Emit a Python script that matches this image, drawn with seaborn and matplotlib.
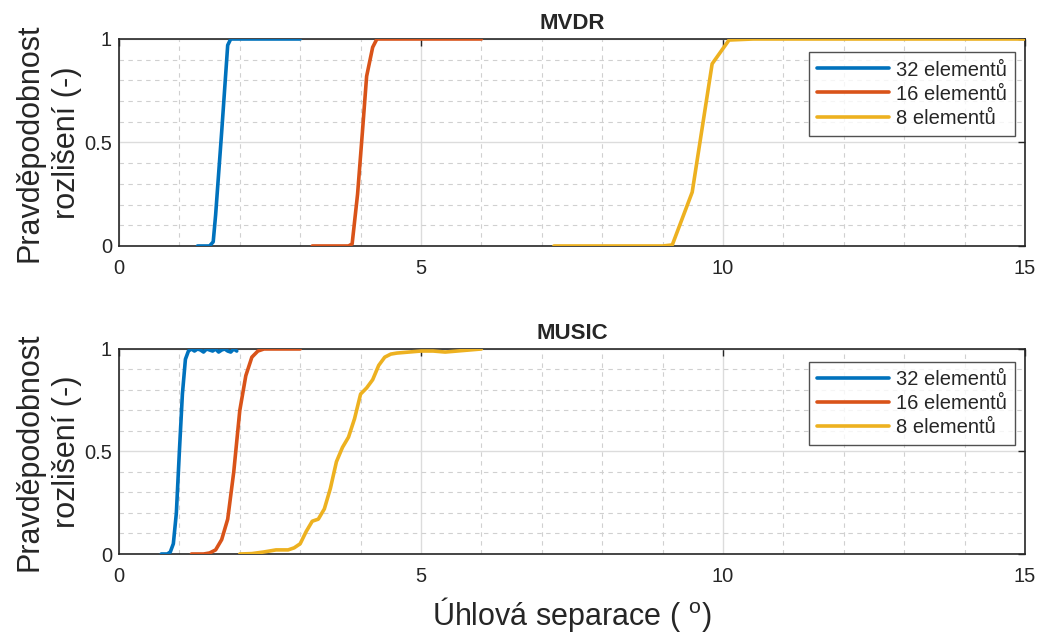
import numpy as np
import pandas as pd
import matplotlib
matplotlib.use("Agg")
import matplotlib.pyplot as plt
import seaborn as sns
from matplotlib.ticker import MultipleLocator

# ---------------- data ----------------
series_names = ["32 elementů", "16 elementů", "8 elementů"]
colors = ["#0072BD", "#D95319", "#EDB120"]

# MVDR
mvdr32_x = [1.3, 1.4, 1.5, 1.56, 1.6, 1.7, 1.8, 1.85, 1.9, 2.0, 2.2, 2.4, 2.6, 2.8, 3.0]
mvdr32_y = [0.0, 0.0, 0.0, 0.02, 0.15, 0.55, 0.97, 1.0, 1.0, 1.0, 1.0, 1.0, 1.0, 1.0, 1.0]
mvdr16_x = [3.2, 3.4, 3.6, 3.8, 3.86, 3.95, 4.03, 4.1, 4.2, 4.27, 4.4, 4.6, 5.0, 5.5, 6.0]
mvdr16_y = [0.0, 0.0, 0.0, 0.0, 0.01, 0.25, 0.55, 0.82, 0.96, 1.0, 1.0, 1.0, 1.0, 1.0, 1.0]
mvdr8_x = [7.2, 7.5, 8.0, 8.5, 9.0, 9.16, 9.49, 9.82, 10.1, 10.5, 11.0, 12.0, 13.0, 14.0, 15.0]
mvdr8_y = [0.0, 0.0, 0.0, 0.0, 0.0, 0.005, 0.26, 0.88, 0.995, 1.0, 1.0, 1.0, 1.0, 1.0, 1.0]

# MUSIC
music32_x = [0.7, 0.75, 0.8, 0.85, 0.9, 0.95, 1.0, 1.05, 1.1, 1.15, 1.2, 1.25, 1.3, 1.35,
             1.4, 1.45, 1.5, 1.55, 1.6, 1.65, 1.7, 1.75, 1.8, 1.85, 1.9, 1.95]
music32_y = [0.0, 0.0, 0.0, 0.01, 0.05, 0.2, 0.5, 0.78, 0.95, 0.99, 1.0, 0.99, 1.0, 0.995,
             0.985, 1.0, 0.995, 0.99, 1.0, 0.985, 0.995, 1.0, 0.99, 0.985, 1.0, 0.99]
music16_x = [1.2, 1.3, 1.4, 1.5, 1.6, 1.7, 1.8, 1.9, 2.0, 2.1, 2.2, 2.3, 2.4, 2.6, 2.8, 3.0]
music16_y = [0.0, 0.0, 0.0, 0.005, 0.02, 0.07, 0.17, 0.4, 0.7, 0.87, 0.96, 0.99, 1.0, 1.0, 1.0, 1.0]
music8_x = [2.0, 2.2, 2.4, 2.5, 2.6, 2.8, 2.9, 3.0, 3.1, 3.2, 3.3, 3.4, 3.5, 3.6, 3.7, 3.8,
            3.9, 4.0, 4.1, 4.2, 4.3, 4.4, 4.5, 4.6, 4.8, 5.0, 5.2, 5.4, 5.6, 5.8, 6.0]
music8_y = [0.0, 0.002, 0.01, 0.015, 0.02, 0.02, 0.03, 0.05, 0.11, 0.16, 0.17, 0.22, 0.32,
            0.45, 0.52, 0.57, 0.66, 0.78, 0.81, 0.85, 0.92, 0.96, 0.975, 0.98, 0.985, 0.99,
            0.99, 0.985, 0.99, 0.995, 1.0]

titles = ["MVDR", "MUSIC"]
x_ticks = [0, 5, 10, 15]
y_ticks = [0, 0.5, 1]
y_ticklabels = ["0", "0.5", "1"]
ylabel = "Pravděpodobnost\nrozlišení (-)"
xlabel = "Úhlová separace ( $^{\\mathregular{o}}$)"


def make_df(xs, ys):
    frames = []
    for name, x, y in zip(series_names, xs, ys):
        frames.append(pd.DataFrame({"x": x, "y": y, "series": name}))
    return pd.concat(frames, ignore_index=True)


df_mvdr = make_df([mvdr32_x, mvdr16_x, mvdr8_x], [mvdr32_y, mvdr16_y, mvdr8_y])
df_music = make_df([music32_x, music16_x, music8_x], [music32_y, music16_y, music8_y])

# ---------------- style ----------------
sns.set_style("white")
plt.rcParams["font.family"] = ["Liberation Sans", "DejaVu Sans"]
plt.rcParams["mathtext.fontset"] = "custom"
plt.rcParams["mathtext.rm"] = "Liberation Sans"
plt.rcParams["mathtext.it"] = "Liberation Sans"

txt = "#262626"
fig = plt.figure(figsize=(10.4, 6.33), dpi=100)
ax1 = fig.add_axes([0.1144, 0.6114, 0.8712, 0.3270])
ax2 = fig.add_axes([0.1144, 0.1248, 0.8712, 0.3239])

palette = dict(zip(series_names, colors))
for ax, df, title in zip([ax1, ax2], [df_mvdr, df_music], titles):
    sns.lineplot(data=df, x="x", y="y", hue="series", palette=palette, ax=ax,
                 linewidth=2.6, estimator=None, sort=False, zorder=3)
    ax.set_xlim(0, 15)
    ax.set_ylim(0, 1)
    ax.set_xticks(x_ticks)
    ax.set_yticks(y_ticks)
    ax.set_yticklabels(y_ticklabels)
    ax.xaxis.set_minor_locator(MultipleLocator(1))
    ax.yaxis.set_minor_locator(MultipleLocator(0.1))
    ax.grid(True, which="major", color="#dcdcdc", linewidth=1.0, linestyle="-", zorder=0)
    ax.grid(True, which="minor", color="#d0d0d0", linewidth=0.8, linestyle=(0, (4, 4)), zorder=0)
    ax.set_axisbelow(True)
    ax.tick_params(axis="both", which="major", direction="in", length=5, width=1,
                   color=txt, labelsize=14.5, labelcolor=txt, top=True, right=True)
    ax.tick_params(axis="x", which="major", pad=9.5)
    ax.tick_params(axis="y", which="major", pad=5)
    ax.tick_params(axis="both", which="minor", length=0)
    for sp in ax.spines.values():
        sp.set_color(txt)
        sp.set_linewidth(1.2)
    ax.set_title(title, fontsize=16, fontweight="bold", color=txt, pad=7)
    ax.set_ylabel(ylabel, fontsize=22, color=txt, labelpad=1.5, linespacing=1.35)
    ax.set_xlabel("")
    leg = ax.legend(loc="upper right", bbox_to_anchor=(0.989, 0.935), borderaxespad=0,
                    fontsize=14.5, frameon=True, fancybox=False, edgecolor=txt,
                    handlelength=3.6, handletextpad=0.35, labelspacing=0.25, borderpad=0.4)
    leg.get_frame().set_linewidth(1.0)
    for t in leg.get_texts():
        t.set_color(txt)

ax2.set_xlabel(xlabel, fontsize=22, color=txt, labelpad=6)

fig.savefig("out.png", dpi=100)
